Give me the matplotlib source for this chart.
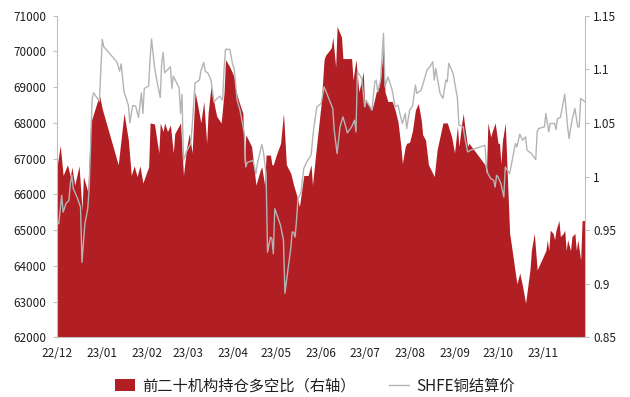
import matplotlib.pyplot as plt
import pandas as pd
from matplotlib.lines import Line2D
from matplotlib.patches import Patch

plt.rcParams['font.family'] = ['Noto Sans CJK SC', 'DejaVu Sans']

# 前二十机构持仓多空比 (right axis)
ratio_dates = [
    '2022-12-01', '2022-12-03', '2022-12-05', '2022-12-08', '2022-12-10', '2022-12-11', '2022-12-13',
    '2022-12-16', '2022-12-18', '2022-12-19', '2022-12-22', '2022-12-24', '2022-12-30',
    '2023-01-01', '2023-01-12', '2023-01-16', '2023-01-19', '2023-01-21', '2023-01-23', '2023-01-25',
    '2023-01-27', '2023-01-29',
    '2023-02-02', '2023-02-03', '2023-02-06', '2023-02-09', '2023-02-10', '2023-02-12', '2023-02-13',
    '2023-02-15', '2023-02-17', '2023-02-19', '2023-02-20', '2023-02-24', '2023-02-25', '2023-02-26',
    '2023-02-28',
    '2023-03-02', '2023-03-04', '2023-03-06', '2023-03-08', '2023-03-10', '2023-03-12', '2023-03-14',
    '2023-03-15', '2023-03-17', '2023-03-20', '2023-03-21', '2023-03-24', '2023-03-26', '2023-03-27',
    '2023-03-30',
    '2023-04-01', '2023-04-02', '2023-04-03', '2023-04-05', '2023-04-08', '2023-04-09', '2023-04-10',
    '2023-04-14', '2023-04-17', '2023-04-20', '2023-04-21', '2023-04-23', '2023-04-24', '2023-04-27',
    '2023-04-28', '2023-04-29',
    '2023-05-01', '2023-05-04', '2023-05-06', '2023-05-08', '2023-05-11', '2023-05-13', '2023-05-15',
    '2023-05-17', '2023-05-20', '2023-05-23', '2023-05-25', '2023-05-26', '2023-05-29',
    '2023-06-01', '2023-06-03', '2023-06-04', '2023-06-08', '2023-06-09', '2023-06-11', '2023-06-12',
    '2023-06-15', '2023-06-16', '2023-06-22', '2023-06-23', '2023-06-25', '2023-06-27', '2023-06-29',
    '2023-06-30',
    '2023-07-01', '2023-07-02', '2023-07-04', '2023-07-06', '2023-07-08', '2023-07-09', '2023-07-11',
    '2023-07-12', '2023-07-14', '2023-07-15', '2023-07-17', '2023-07-20', '2023-07-22', '2023-07-24',
    '2023-07-26', '2023-07-27', '2023-07-29', '2023-07-30',
    '2023-08-01', '2023-08-03', '2023-08-05', '2023-08-07', '2023-08-09', '2023-08-10', '2023-08-12',
    '2023-08-14', '2023-08-18', '2023-08-20', '2023-08-24', '2023-08-27', '2023-08-30',
    '2023-09-01', '2023-09-03', '2023-09-04', '2023-09-06', '2023-09-07', '2023-09-08', '2023-09-10',
    '2023-09-11', '2023-09-22', '2023-09-23', '2023-09-24', '2023-09-26', '2023-09-27', '2023-09-29',
    '2023-10-01', '2023-10-02', '2023-10-03', '2023-10-04', '2023-10-06', '2023-10-08', '2023-10-09',
    '2023-10-10', '2023-10-12', '2023-10-14', '2023-10-16', '2023-10-18', '2023-10-20', '2023-10-23',
    '2023-10-24', '2023-10-26', '2023-10-28', '2023-10-31',
    '2023-11-03', '2023-11-04', '2023-11-05', '2023-11-06', '2023-11-08', '2023-11-09', '2023-11-10',
    '2023-11-12', '2023-11-13', '2023-11-15', '2023-11-16', '2023-11-17', '2023-11-18', '2023-11-20',
    '2023-11-21', '2023-11-23', '2023-11-24', '2023-11-25', '2023-11-27', '2023-11-28', '2023-11-30',
]
ratio = [
    1.011, 1.029, 1.001, 1.011, 1.000, 1.009, 0.992,
    1.010, 0.969, 1.000, 0.986, 1.050, 1.076,
    1.063, 1.011, 1.059, 1.034, 1.001, 1.010, 1.000,
    1.010, 0.994,
    1.009, 1.050, 1.049, 1.022, 1.050, 1.042, 1.050,
    1.042, 1.048, 1.022, 1.040, 1.050, 1.025, 1.001,
    1.025,
    1.040, 1.022, 1.079, 1.065, 1.050, 1.070, 1.031,
    1.059, 1.084, 1.062, 1.056, 1.050, 1.078, 1.109,
    1.102,
    1.096, 1.092, 1.081, 1.071, 1.059, 1.011, 1.039,
    1.028, 0.992, 1.006, 1.009, 0.992, 1.020, 1.020,
    1.011, 1.011,
    1.020, 1.031, 1.059, 1.011, 1.003, 0.992, 0.983,
    0.972, 1.001, 1.001, 1.011, 0.992, 1.031,
    1.068, 1.109, 1.113, 1.120, 1.130, 1.102, 1.140,
    1.130, 1.110, 1.110, 1.090, 1.109, 1.079, 1.090,
    1.098,
    1.065, 1.071, 1.067, 1.062, 1.073, 1.079, 1.084,
    1.093, 1.121, 1.079, 1.070, 1.070, 1.062, 1.051,
    1.028, 1.012, 1.028, 1.031,
    1.032, 1.043, 1.062, 1.068, 1.053, 1.039, 1.034,
    1.011, 1.000, 1.025, 1.050, 1.050, 1.037,
    1.022, 1.047, 1.028, 1.050, 1.059, 1.047, 1.028,
    1.031, 1.011, 1.003, 1.050, 1.037, 1.042, 1.050,
    1.031, 1.031, 1.012, 1.033, 1.050, 0.981, 0.947,
    0.938, 0.919, 0.900, 0.910, 0.897, 0.882, 0.913,
    0.931, 0.947, 0.913, 0.922,
    0.931, 0.941, 0.931, 0.950, 0.947, 0.941, 0.950,
    0.959, 0.944, 0.947, 0.950, 0.931, 0.941, 0.931,
    0.944, 0.947, 0.931, 0.941, 0.922, 0.959, 0.959,
]

# SHFE铜结算价 (left axis)
price_dates = [
    '2022-12-01', '2022-12-02', '2022-12-04', '2022-12-05', '2022-12-07', '2022-12-09', '2022-12-10',
    '2022-12-11', '2022-12-12', '2022-12-15', '2022-12-17', '2022-12-18', '2022-12-20', '2022-12-22',
    '2022-12-23', '2022-12-25', '2022-12-26', '2022-12-30',
    '2023-01-01', '2023-01-02', '2023-01-11', '2023-01-13', '2023-01-14', '2023-01-16', '2023-01-19',
    '2023-01-20', '2023-01-22', '2023-01-24', '2023-01-26', '2023-01-28', '2023-01-29', '2023-01-30',
    '2023-02-02', '2023-02-03', '2023-02-04', '2023-02-06', '2023-02-08', '2023-02-10', '2023-02-11',
    '2023-02-12', '2023-02-13', '2023-02-17', '2023-02-18', '2023-02-19', '2023-02-23', '2023-02-24',
    '2023-02-25', '2023-02-26', '2023-02-28',
    '2023-03-03', '2023-03-04', '2023-03-06', '2023-03-09', '2023-03-10', '2023-03-12', '2023-03-13',
    '2023-03-15', '2023-03-17', '2023-03-19', '2023-03-23', '2023-03-25', '2023-03-26', '2023-03-27',
    '2023-03-30',
    '2023-04-01', '2023-04-02', '2023-04-04', '2023-04-06', '2023-04-09', '2023-04-10', '2023-04-11',
    '2023-04-15', '2023-04-17', '2023-04-18', '2023-04-21', '2023-04-22', '2023-04-24', '2023-04-25',
    '2023-04-27', '2023-04-28', '2023-04-29', '2023-04-30',
    '2023-05-02', '2023-05-04', '2023-05-06', '2023-05-07', '2023-05-09', '2023-05-11', '2023-05-12',
    '2023-05-13', '2023-05-14', '2023-05-15', '2023-05-16', '2023-05-18', '2023-05-20', '2023-05-22',
    '2023-05-25', '2023-05-27', '2023-05-29',
    '2023-06-01', '2023-06-03', '2023-06-09', '2023-06-10', '2023-06-12', '2023-06-14', '2023-06-16',
    '2023-06-18', '2023-06-19', '2023-06-22', '2023-06-24', '2023-06-25', '2023-06-26', '2023-06-29',
    '2023-07-01', '2023-07-02', '2023-07-04', '2023-07-06', '2023-07-08', '2023-07-09', '2023-07-10',
    '2023-07-12', '2023-07-14', '2023-07-15', '2023-07-17', '2023-07-20', '2023-07-22', '2023-07-24',
    '2023-07-25', '2023-07-27', '2023-07-29', '2023-07-30',
    '2023-08-01', '2023-08-03', '2023-08-05', '2023-08-06', '2023-08-09', '2023-08-11', '2023-08-13',
    '2023-08-15', '2023-08-17', '2023-08-18', '2023-08-19', '2023-08-22', '2023-08-24', '2023-08-26',
    '2023-08-27', '2023-08-28', '2023-08-31',
    '2023-09-03', '2023-09-04', '2023-09-07', '2023-09-08', '2023-09-10', '2023-09-12', '2023-09-22',
    '2023-09-23', '2023-09-24', '2023-09-26', '2023-09-28', '2023-09-29', '2023-09-30',
    '2023-10-01', '2023-10-03', '2023-10-05', '2023-10-06', '2023-10-09', '2023-10-11', '2023-10-13',
    '2023-10-14', '2023-10-16', '2023-10-18', '2023-10-20', '2023-10-21', '2023-10-24', '2023-10-27',
    '2023-10-28', '2023-10-29',
    '2023-11-02', '2023-11-03', '2023-11-05', '2023-11-06', '2023-11-09', '2023-11-10', '2023-11-11',
    '2023-11-13', '2023-11-16', '2023-11-18', '2023-11-19', '2023-11-21', '2023-11-23', '2023-11-25',
    '2023-11-26', '2023-11-27', '2023-11-30',
]
price = [
    65250, 65180, 65975, 65505, 65750, 65834, 66302,
    66535, 66162, 65882, 65646, 64104, 65180, 65601,
    66207, 68665, 68842, 68608,
    70338, 70131, 69710, 69450, 69650, 68870, 68497,
    68000, 68488, 68469, 68152, 68842, 68264, 68965,
    69030, 69823, 70347, 69571, 69105, 68713, 69683,
    69974, 69402, 69571, 68965, 69310, 68982, 68264,
    68797, 66955, 67188,
    67423, 67889, 69122, 69197, 69450, 69694, 69450,
    69385, 69197, 68590, 68749, 68637, 69497, 70058,
    70058,
    69618, 69525, 68637, 68357, 67703, 66767, 66891,
    66955, 66580, 66860, 67395, 67236, 66580, 64385,
    64805, 64760, 64340, 65601,
    65366, 65133, 64713, 63236, 63872, 64480, 64946,
    64946, 64806, 65273, 65882, 66050, 66722, 66908,
    67095, 67889, 68449,
    68545, 69010, 68404, 67796, 67143, 67889, 68169,
    67889, 67721, 67889, 68077, 67749, 69430, 69245,
    68449, 68637, 68497, 68357, 69150, 69197, 68870,
    69197, 70507, 69010, 69290, 68917, 68449, 68497,
    68309, 67984, 68264, 67842,
    68357, 68469, 69057, 68825, 68917, 69197, 69478,
    69571, 69711, 69197, 69525, 68825, 68685, 69197,
    69150, 69665, 69385,
    68685, 67937, 67889, 67609, 67188, 67236, 67375,
    66767, 66582, 66442, 66395, 66207, 66535,
    66487, 66302, 65927, 66767, 66582, 67003, 67423,
    67328, 67684, 67516, 67609, 67236, 67143, 66975,
    67749, 67843,
    67889, 68264, 67749, 67984, 67984, 67816, 68124,
    68151, 68805, 67889, 67563, 68077, 68404, 67889,
    67889, 68685, 68590,
]

month_ticks = ['2022-12-01', '2023-01-01', '2023-02-01', '2023-03-01', '2023-04-01', '2023-05-01',
               '2023-06-01', '2023-07-01', '2023-08-01', '2023-09-01', '2023-10-01', '2023-11-01']
month_labels = ['22/12', '23/01', '23/02', '23/03', '23/04', '23/05',
                '23/06', '23/07', '23/08', '23/09', '23/10', '23/11']
price_ticks = [62000, 63000, 64000, 65000, 66000, 67000, 68000, 69000, 70000, 71000]
ratio_ticks = [0.85, 0.9, 0.95, 1, 1.05, 1.1, 1.15]
ratio_tick_labels = ['0.85', '0.9', '0.95', '1', '1.05', '1.1', '1.15']

RED = '#B11E24'
GREY = '#B4B4B4'
AXIS = '#BFBFBF'
TEXT = '#1F1F1F'

fig = plt.figure(figsize=(6.3, 3.97), dpi=100)
ax = fig.add_axes([0.091, 0.15, 0.8376, 0.8106])
ax2 = ax.twinx()

ax2.fill_between(pd.to_datetime(ratio_dates), ratio, 0.85, color=RED, lw=0)
ax.plot(pd.to_datetime(price_dates), price, color=GREY, lw=1)

# price line has to sit over the red area
ax.set_zorder(ax2.get_zorder() + 1)
ax.patch.set_visible(False)

ax.set_xlim(pd.Timestamp('2022-12-01'), pd.Timestamp('2023-11-30'))
ax.set_ylim(62000, 71000)
ax2.set_ylim(0.85, 1.15)

ax.set_xticks(pd.to_datetime(month_ticks))
ax.set_xticklabels(month_labels)
ax.set_yticks(price_ticks)
ax2.set_yticks(ratio_ticks)
ax2.set_yticklabels(ratio_tick_labels)

ax.tick_params(axis='x', length=0, pad=7, labelsize=8.5, labelcolor=TEXT)
ax.tick_params(axis='y', length=3, width=0.8, color=AXIS, pad=5, labelsize=8.5, labelcolor=TEXT)
ax2.tick_params(axis='y', length=3, width=0.8, color=AXIS, pad=3, labelsize=8.5, labelcolor=TEXT)

for name in ['top', 'right']:
    ax.spines[name].set_visible(False)
for name in ['top', 'left', 'bottom']:
    ax2.spines[name].set_visible(False)
ax.spines['left'].set_color(AXIS)
ax.spines['bottom'].set_color(AXIS)
ax2.spines['right'].set_color(AXIS)

handles = [Patch(facecolor=RED, edgecolor='none'), Line2D([], [], color=GREY, lw=1)]
labels = ['前二十机构持仓多空比（右轴）', 'SHFE铜结算价']
fig.legend(handles, labels, loc='center', bbox_to_anchor=(0.5, 1 - 386 / 397), ncol=2,
           frameon=False, fontsize=11, handlelength=1.3, handleheight=0.8,
           handletextpad=0.45, columnspacing=2.2, labelcolor=TEXT)

fig.savefig('out.png', dpi=100)
